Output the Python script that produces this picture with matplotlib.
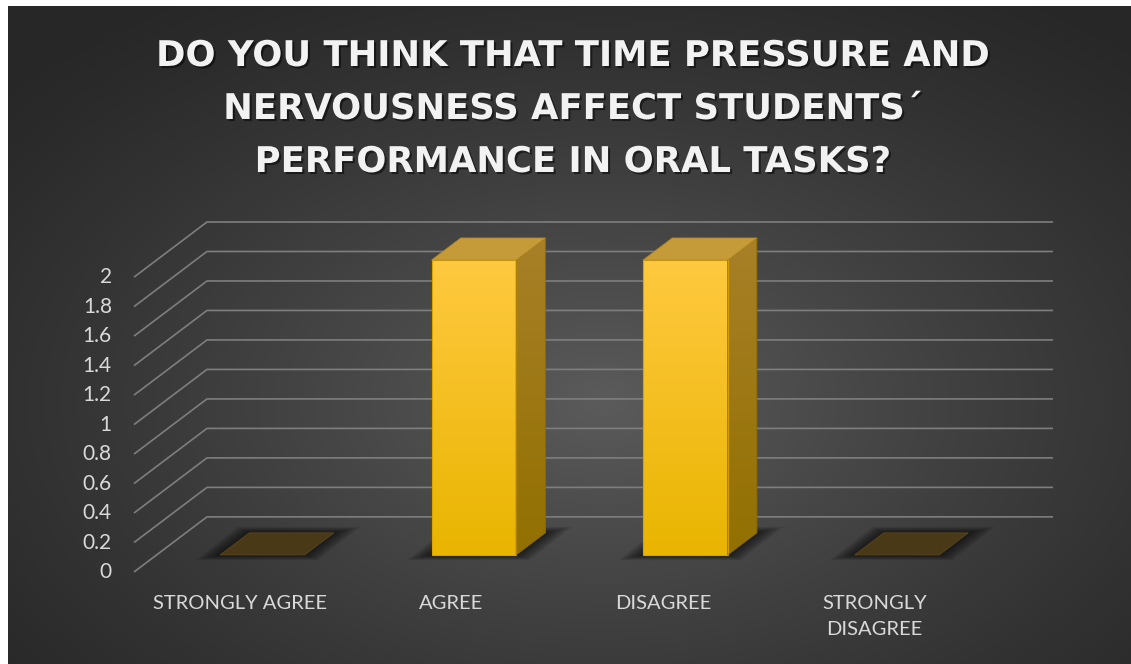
import numpy as np
import matplotlib
matplotlib.use("Agg")
import matplotlib.pyplot as plt
from matplotlib.patches import Polygon
import matplotlib.patheffects as pe

# ---- data ----
categories = ["STRONGLY AGREE", "AGREE", "DISAGREE", "STRONGLY\nDISAGREE"]
values = [0, 2, 2, 0]
y_ticks = [0, 0.2, 0.4, 0.6, 0.8, 1, 1.2, 1.4, 1.6, 1.8, 2]
y_tick_labels = ["0", "0.2", "0.4", "0.6", "0.8", "1", "1.2", "1.4", "1.6", "1.8", "2"]
title_lines = ["DO YOU THINK THAT TIME PRESSURE AND",
               "NERVOUSNESS AFFECT STUDENTS\u00b4",
               "PERFORMANCE IN ORAL TASKS?"]

# ---- figure ----
W, H = 1131, 664
fig = plt.figure(figsize=(W / 100, H / 100), dpi=100)
fig.patch.set_facecolor("white")

# radial dark background
bg = fig.add_axes([8 / W, 0, (W - 8) / W, (H - 6) / H])
bw, bh = W - 8, H - 6
yy, xx = np.mgrid[0:bh, 0:bw]
cx, cy = 0.53 * bw, 0.6 * bh
r = np.sqrt(((xx - cx) / (bw * 0.72)) ** 2 + ((yy - cy) / (bh * 0.75)) ** 2)
r = np.clip(r, 0, 1)
v = 39 + 52 * (1 - r) ** 1.25
img = np.dstack([v, v, v]) / 255.0
bg.imshow(img, extent=(0, bw, bh, 0), aspect="auto", interpolation="bilinear")
bg.set_axis_off()

# ---- 3D-ish column axes ----
DX, DY = 0.345, 0.374          # depth shift (category units, value units)
Z0, Z1 = 0.31, 0.71            # column front / back depth fraction
BAR_W = 0.4
n = len(categories)

ax = fig.add_axes([134 / W, 92 / H, 919 / W, 350 / H])
ax.set_xlim(-0.5, n - 0.5 + DX)
ax.set_ylim(0, 2 + DY)
ax.set_axis_off()
ax.patch.set_alpha(0)

grid_color = "#7e7e7e"
for t in y_ticks:
    ax.plot([-0.5, -0.5 + DX, n - 0.5 + DX], [t, t + DY, t + DY],
            color=grid_color, lw=1.2, solid_capstyle="butt", clip_on=False, zorder=1)

for t, lab in zip(y_ticks, y_tick_labels):
    ax.annotate(lab, xy=(-0.5, t), xytext=(-16, 0), textcoords="offset points",
                ha="right", va="center", fontsize=15, color="#d9d9d9",
                family="Lato", annotation_clip=False)

for i, lab in enumerate(categories):
    ax.annotate(lab, xy=(i, 0), xytext=(0, -16.5), textcoords="offset points",
                ha="center", va="top", fontsize=14.5, color="#d9d9d9",
                family="Lato", linespacing=1.68, annotation_clip=False)


def vgrad(ax, poly, top, bottom, extent, z):
    top = np.array(matplotlib.colors.to_rgb(top))
    bottom = np.array(matplotlib.colors.to_rgb(bottom))
    t = np.linspace(0, 1, 256)[:, None]
    col = top * (1 - t) + bottom * t
    im = ax.imshow(col[:, None, :], extent=extent, aspect="auto",
                   zorder=z, interpolation="bilinear", origin="upper")
    im.set_clip_path(poly)


ddx, ddy = (Z1 - Z0) * DX, (Z1 - Z0) * DY
for i, val in enumerate(values):
    x0 = i - BAR_W / 2 + Z0 * DX
    x1 = i + BAR_W / 2 + Z0 * DX
    y0 = Z0 * DY
    y1 = val + Z0 * DY

    # soft floor shadow
    foot = np.array([[x0, y0], [x1, y0], [x1 + ddx, y0 + ddy], [x0 + ddx, y0 + ddy]])
    cen = foot.mean(axis=0) + np.array([-0.01, -0.005])
    for k in range(10, 0, -1):
        sx = 1 + 0.045 * k
        sy = 1 + 0.05 * k
        pts = (foot - cen) * np.array([sx, sy]) + cen
        ax.add_patch(Polygon(pts, closed=True, facecolor="black", edgecolor="none",
                             alpha=0.07, zorder=2))

    if val == 0:
        ax.add_patch(Polygon(foot, closed=True, facecolor="#4a3916",
                             edgecolor="#5a4620", lw=0.6, zorder=3))
        continue

    front = Polygon([[x0, y0], [x1, y0], [x1, y1], [x0, y1]], closed=True,
                    facecolor="none", edgecolor="#d9a300", lw=0.8, zorder=5)
    side = Polygon([[x1, y0], [x1 + ddx, y0 + ddy], [x1 + ddx, y1 + ddy], [x1, y1]],
                   closed=True, facecolor="none", edgecolor="#8f6c00", lw=0.6, zorder=5)
    top = Polygon([[x0, y1], [x1, y1], [x1 + ddx, y1 + ddy], [x0 + ddx, y1 + ddy]],
                  closed=True, facecolor="#c59a38", edgecolor="#b58a25", lw=0.6, zorder=5)
    ax.add_patch(front)
    ax.add_patch(side)
    ax.add_patch(top)
    vgrad(ax, front, "#ffc940", "#e9b500", (x0, x1, y0, y1), 4)
    vgrad(ax, side, "#a88028", "#927000", (x1, x1 + ddx, y0, y1 + ddy), 4)

# ---- title ----
shadow = [pe.withSimplePatchShadow(offset=(1.5, -1.5), shadow_rgbFace="black", alpha=0.5)]
base_y = [66, 119, 172]
for line, by in zip(title_lines, base_y):
    fig.text(572.5 / W, 1 - by / H, line, ha="center", va="baseline",
             fontsize=25.5, fontweight="bold", family="DejaVu Sans", color="#f2f2f2",
             path_effects=shadow)

fig.savefig("out.png", dpi=100, facecolor=fig.get_facecolor())
